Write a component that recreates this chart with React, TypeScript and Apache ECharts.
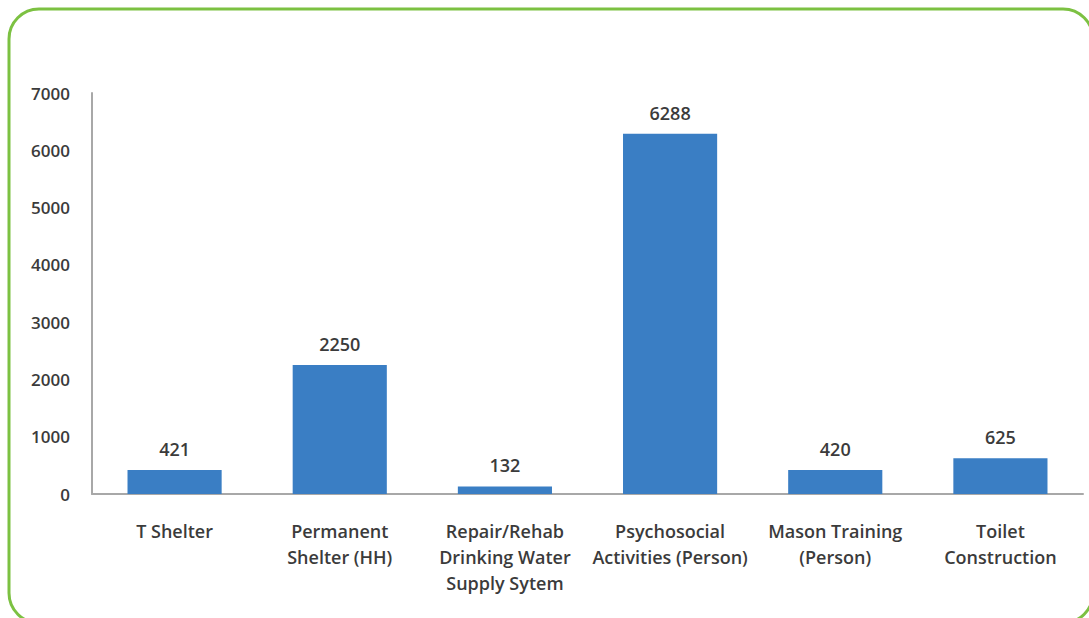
import React, { useEffect, useRef } from "react";
import * as echarts from "echarts";

const categories = [
  "T Shelter",
  "Permanent\nShelter (HH)",
  "Repair/Rehab\nDrinking Water\nSupply Sytem",
  "Psychosocial\nActivities (Person)",
  "Mason Training\n(Person)",
  "Toilet\nConstruction",
];
const values = [421, 2250, 132, 6288, 420, 625];
const yTicks = { min: 0, max: 7000, interval: 1000 };

const FONT = "'Open Sans', 'Noto Sans', sans-serif";
const TEXT = "#3b3b3b";

export default function App() {
  const ref = useRef<HTMLDivElement>(null);

  useEffect(() => {
    if (!ref.current) return;
    const chart = echarts.init(ref.current, undefined, { renderer: "svg" });
    chart.setOption({
      animation: false,
      backgroundColor: "#ffffff",
      graphic: [
        {
          type: "rect",
          shape: { x: 9, y: 9, width: 1084, height: 614, r: 30 },
          style: { fill: "none", stroke: "#7cc142", lineWidth: 3 },
          silent: true,
        },
      ],
      grid: { left: 92, right: 6, top: 93, bottom: 124, containLabel: false },
      xAxis: {
        type: "category",
        data: categories,
        axisLine: { lineStyle: { color: "#a8a8a8", width: 2 } },
        axisTick: { show: false },
        axisLabel: {
          interval: 0,
          margin: 24,
          color: TEXT,
          fontFamily: FONT,
          fontSize: 18,
          fontWeight: 600,
          lineHeight: 26,
        },
      },
      yAxis: {
        type: "value",
        min: yTicks.min,
        max: yTicks.max,
        interval: yTicks.interval,
        splitLine: { show: false },
        axisLine: { show: true, lineStyle: { color: "#a8a8a8", width: 2 } },
        axisTick: { show: false },
        axisLabel: {
          margin: 22,
          color: TEXT,
          fontFamily: FONT,
          fontSize: 17,
          fontWeight: 600,
          formatter: (v: number) => String(v),
        },
      },
      series: [
        {
          type: "bar",
          data: values,
          barWidth: "57%",
          itemStyle: { color: "#3a7ec4" },
          label: {
            show: true,
            position: "top",
            distance: 12,
            color: TEXT,
            fontFamily: FONT,
            fontSize: 18,
            fontWeight: 600,
          },
        },
      ],
    });
    return () => chart.dispose();
  }, []);

  return (
    <div
      ref={ref}
      style={{ position: "fixed", left: 0, top: 0, width: 1089, height: 618 }}
    />
  );
}
